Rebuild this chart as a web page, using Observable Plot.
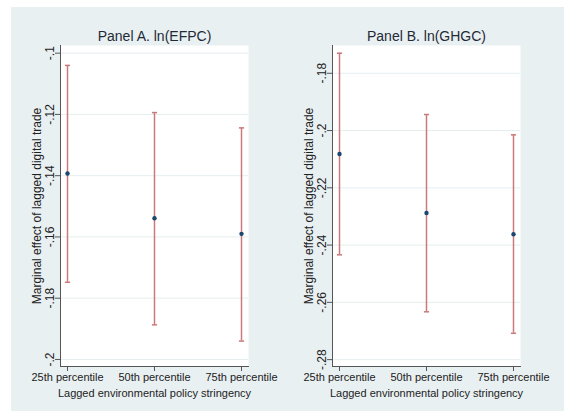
<!DOCTYPE html>
<html>
<head>
<meta charset="utf-8">
<script src="https://cdn.jsdelivr.net/npm/d3@7"></script>
<script src="https://cdn.jsdelivr.net/npm/@observablehq/plot@0.6"></script>
<style>
  html, body { margin: 0; padding: 0; background: #ffffff; }
  #root { position: relative; width: 564px; height: 412px; overflow: hidden; }
  #bg { position: absolute; left: 11px; top: 7px; width: 553px; height: 404px; background: #e9f0f2; }
  .panel { position: absolute; top: 0; }
</style>
</head>
<body>
<div id="root"><div id="bg"></div><div id="pa" class="panel" style="left:0px"></div><div id="pb" class="panel" style="left:272px"></div></div>
<script>
const categories = ["25th percentile", "50th percentile", "75th percentile"];

const efpcTitle = "Panel A. ln(EFPC)";
const efpcEst = [-0.1393, -0.1539, -0.1590];
const efpcLo  = [-0.1748, -0.1887, -0.1940];
const efpcHi  = [-0.1040, -0.1194, -0.1244];
const efpcTicks = [-0.2, -0.18, -0.16, -0.14, -0.12, -0.1];
const efpcTickLabels = ["-.2", "-.18", "-.16", "-.14", "-.12", "-.1"];
const efpcDomain = [-0.2023, -0.0975];

const ghgcTitle = "Panel B. ln(GHGC)";
const ghgcEst = [-0.2082, -0.2288, -0.2362];
const ghgcLo  = [-0.2434, -0.2633, -0.2708];
const ghgcHi  = [-0.1730, -0.1944, -0.2015];
const ghgcTicks = [-0.28, -0.26, -0.24, -0.22, -0.2, -0.18];
const ghgcTickLabels = ["-.28", "-.26", "-.24", "-.22", "-.2", "-.18"];
const ghgcDomain = [-0.2824, -0.1703];

const yLabel = "Marginal effect of lagged digital trade";
const xLabel = "Lagged environmental policy stringency";

const ciColor = "#c97a7a";
const dotColor = "#1a476f";
const axisColor = "#555555";

const capSymbol = {
  draw(context, size) {
    const w = Math.sqrt(size / Math.PI);
    context.moveTo(-w, 0);
    context.lineTo(w, 0);
  }
};

function panel(title, est, lo, hi, ticks, tickLabels, domain) {
  const rows = categories.map((c, i) => ({cat: c, est: est[i], lo: lo[i], hi: hi[i]}));
  return Plot.plot({
    width: 282, height: 412,
    marginLeft: 60, marginRight: 34, marginTop: 45, marginBottom: 46,
    style: {background: "transparent", fontFamily: "'Liberation Sans', Arial, sans-serif", fontSize: "11px", color: "#222"},
    x: {type: "point", domain: categories, padding: 0.07},
    y: {domain: domain},
    marks: [
      Plot.frame({fill: "white", stroke: null}),
      Plot.gridY(ticks, {stroke: "#e6eef0", strokeOpacity: 1}),
      Plot.frame({anchor: "left", stroke: axisColor}),
      Plot.frame({anchor: "bottom", stroke: axisColor}),
      Plot.axisY(ticks, {
        tickFormat: d => tickLabels[ticks.indexOf(d)],
        tickRotate: -90, tickSize: 5, tickPadding: 2, fontSize: 12, stroke: axisColor,
        label: yLabel, labelAnchor: "center", labelArrow: "none", labelOffset: 28
      }),
      Plot.axisX({
        tickSize: 5, tickPadding: 2, fontSize: 11, stroke: axisColor,
        label: xLabel, labelAnchor: "center", labelArrow: "none", labelOffset: 30
      }),
      Plot.ruleX(rows, {x: "cat", y1: "lo", y2: "hi", stroke: ciColor, strokeWidth: 1.5}),
      Plot.dot(rows, {x: "cat", y: "lo", r: 2.6, symbol: capSymbol, stroke: ciColor, strokeWidth: 1.5, fill: "none"}),
      Plot.dot(rows, {x: "cat", y: "hi", r: 2.6, symbol: capSymbol, stroke: ciColor, strokeWidth: 1.5, fill: "none"}),
      Plot.dot(rows, {x: "cat", y: "est", r: 2.2, fill: dotColor, stroke: null}),
      Plot.text([title], {frameAnchor: "top", dy: -5, lineAnchor: "bottom", fontSize: 14, fill: "#1f2a36"})
    ]
  });
}

document.getElementById("pa").appendChild(panel(efpcTitle, efpcEst, efpcLo, efpcHi, efpcTicks, efpcTickLabels, efpcDomain));
document.getElementById("pb").appendChild(panel(ghgcTitle, ghgcEst, ghgcLo, ghgcHi, ghgcTicks, ghgcTickLabels, ghgcDomain));
</script>
</body>
</html>
